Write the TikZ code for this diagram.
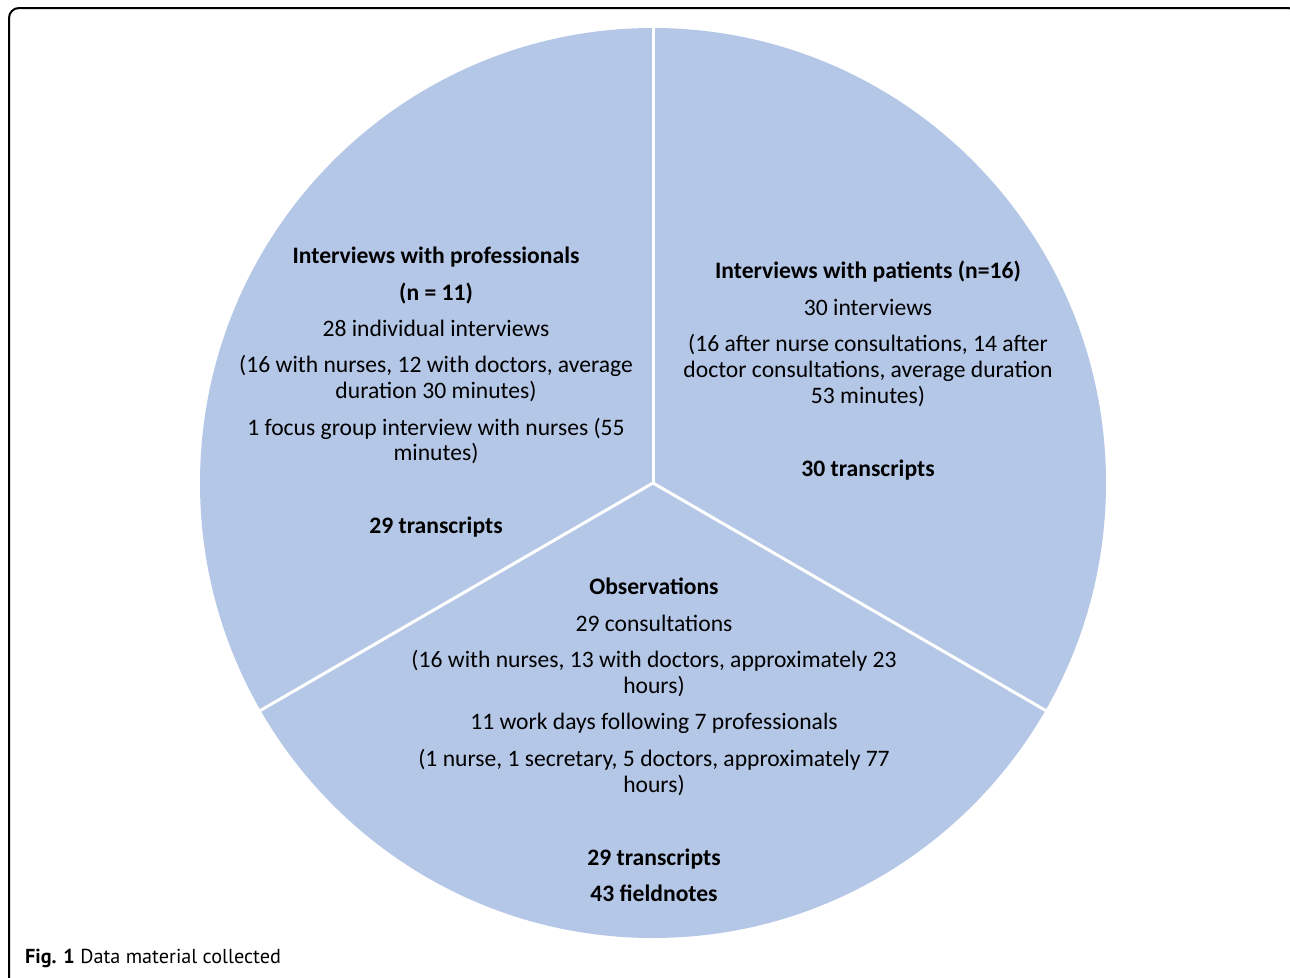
\documentclass[tikz,border=0pt]{standalone}
\usepackage{fontspec}
\setmainfont{Carlito}
\newfontfamily\capfont{PT Sans}
\definecolor{pieblue}{RGB}{180,199,231}
\usetikzlibrary{positioning}
\tikzset{
pietext/.style={font=\fontsize{23.6}{25.8}\selectfont, align=center, inner sep=0pt, anchor=north}, % text inside the sectors
divider/.style={white, line width=3pt}, % white lines between the sectors
frame/.style={black, line width=2pt, rounded corners=10pt},
caption/.style={font=\capfont\fontsize{20.2}{24}\selectfont, inner sep=0pt, anchor=west}
}
\begin{document}
\begin{tikzpicture}[x=1pt, y=-1pt]
  \useasboundingbox (0,0) rectangle (1290,977);
  \clip (0,0) rectangle (1290,977);
  \draw[frame] (9,1000) -- (9,8) -- (1298,8) -- (1298,1000);

  % the pie
  \coordinate (c) at (653,483);
  \coordinate (top) at (653,28);
  \coordinate (left) at (260.3,710.5);
  \coordinate (right) at (1045.7,710.5);
  \fill[pieblue] (c) ellipse[x radius=453, y radius=455];
  \draw[divider] (c) -- (top);
  \draw[divider] (c) -- (left);
  \draw[divider] (c) -- (right);

  \node[pietext] (prof) at (436,247) {\textbf{Interviews with professionals}\\[10.6pt]
    \textbf{(n = 11)}\\[10.6pt]
    28 individual interviews\\[10.6pt]
    (16 with nurses, 12 with doctors, average\\ duration 30 minutes)\\[10.6pt]
    1 focus group interview with nurses (55\\ minutes)\\[47.2pt]
    \textbf{29 transcripts}};
  \node[pietext] (pat) at (868,261) {\textbf{Interviews with patients (n=16)}\\[10.6pt]
    30 interviews\\[10.6pt]
    (16 after nurse consultations, 14 after\\ doctor consultations, average duration\\ 53 minutes)\\[47.2pt]
    \textbf{30 transcripts}};
  \node[pietext] (obs) at (654,578) {\textbf{Observations}\\[10.6pt]
    29 consultations\\[10.6pt]
    (16 with nurses, 13 with doctors, approximately 23\\ hours)\\[10.6pt]
    11 work days following 7 professionals\\[10.6pt]
    (1 nurse, 1 secretary, 5 doctors, approximately 77\\ hours)\\[47.2pt]
    \textbf{29 transcripts}\\[10.6pt]
    \textbf{43 fieldnotes}};

  \node[caption] (cap) at (25,958) {\textbf{Fig. 1} Data material collected};
\end{tikzpicture}
\end{document}
